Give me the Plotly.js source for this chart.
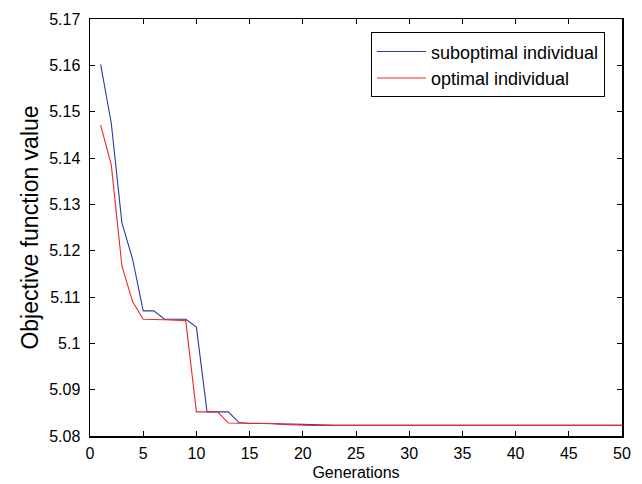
<!DOCTYPE html>
<html>
<head>
<meta charset="utf-8">
<script src="https://cdn.plot.ly/plotly-3.0.1.min.js"></script>
<style>html,body{margin:0;padding:0;background:#fff;}#chart{width:642px;height:484px;}</style>
</head>
<body>
<div id="chart"></div>
<script>
var generations = [];
for (var g = 1; g <= 50; g++) generations.push(g);

var suboptimal = [5.1602, 5.1475, 5.1260, 5.1182, 5.1070, 5.1070, 5.1052, 5.1052, 5.1052, 5.1035,
                  5.0852, 5.0852, 5.0852, 5.0829, 5.0827, 5.0827, 5.0827, 5.0826, 5.0826, 5.0825,
                  5.0824, 5.0823, 5.0823, 5.0823, 5.0823, 5.0823, 5.0823, 5.0823, 5.0823, 5.0823,
                  5.0823, 5.0823, 5.0823, 5.0823, 5.0823, 5.0823, 5.0823, 5.0823, 5.0823, 5.0823,
                  5.0823, 5.0823, 5.0823, 5.0823, 5.0823, 5.0823, 5.0823, 5.0823, 5.0823, 5.0823];

var optimal = [5.1471, 5.1385, 5.1167, 5.1090, 5.1052, 5.1052, 5.1051, 5.1050, 5.1049, 5.0852,
               5.0852, 5.0852, 5.0828, 5.0828, 5.0827, 5.0827, 5.0827, 5.0825, 5.0824, 5.0824,
               5.0823, 5.0823, 5.0823, 5.0823, 5.0823, 5.0823, 5.0823, 5.0823, 5.0823, 5.0823,
               5.0823, 5.0823, 5.0823, 5.0823, 5.0823, 5.0823, 5.0823, 5.0823, 5.0823, 5.0823,
               5.0823, 5.0823, 5.0823, 5.0823, 5.0823, 5.0823, 5.0823, 5.0823, 5.0823, 5.0823];

var xTickVals = [0, 5, 10, 15, 20, 25, 30, 35, 40, 45, 50];
var yTickVals = [5.08, 5.09, 5.10, 5.11, 5.12, 5.13, 5.14, 5.15, 5.16, 5.17];
var yTickText = ["5.08", "5.09", "5.1", "5.11", "5.12", "5.13", "5.14", "5.15", "5.16", "5.17"];

var font = "Liberation Sans, Arial, Helvetica, sans-serif";

var traces = [
  {x: generations, y: suboptimal, type: 'scatter', mode: 'lines', name: 'suboptimal individual',
   line: {color: '#2a3aa6', width: 1.1}},
  {x: generations, y: optimal, type: 'scatter', mode: 'lines', name: 'optimal individual',
   line: {color: '#ec2a22', width: 1.1}}
];

var layout = {
  width: 642, height: 484,
  margin: {l: 90, r: 20, t: 19, b: 48, pad: 0},
  paper_bgcolor: '#fff', plot_bgcolor: '#fff',
  font: {family: font, size: 15, color: '#000'},
  showlegend: true,
  legend: {x: 0.968, y: 0.968, xanchor: 'right', yanchor: 'top',
           bgcolor: '#fff', bordercolor: '#000', borderwidth: 1,
           font: {family: font, size: 18, color: '#000'},
           tracegroupgap: 0, itemwidth: 49},
  xaxis: {range: [0, 50], tickvals: xTickVals, ticks: 'inside', ticklen: 5, tickwidth: 1,
          tickcolor: '#000', showline: true, linecolor: '#000', linewidth: 1.5, mirror: 'ticks',
          showgrid: false, zeroline: false, tickfont: {family: font, size: 16},
          ticklabelstandoff: 2,
          title: {text: 'Generations', font: {family: font, size: 16}, standoff: 6}},
  yaxis: {range: [5.08, 5.17], tickvals: yTickVals, ticktext: yTickText, ticks: 'inside', ticklen: 5,
          tickwidth: 1, tickcolor: '#000', showline: true, linecolor: '#000', linewidth: 1.5,
          mirror: 'ticks', showgrid: false, zeroline: false, tickfont: {family: font, size: 16},
          ticklabelstandoff: 5,
          title: {text: 'Objective function value', font: {family: font, size: 23}, standoff: 4}}
};

Plotly.newPlot('chart', traces, layout, {displayModeBar: false, staticPlot: true});
</script>
</body>
</html>
